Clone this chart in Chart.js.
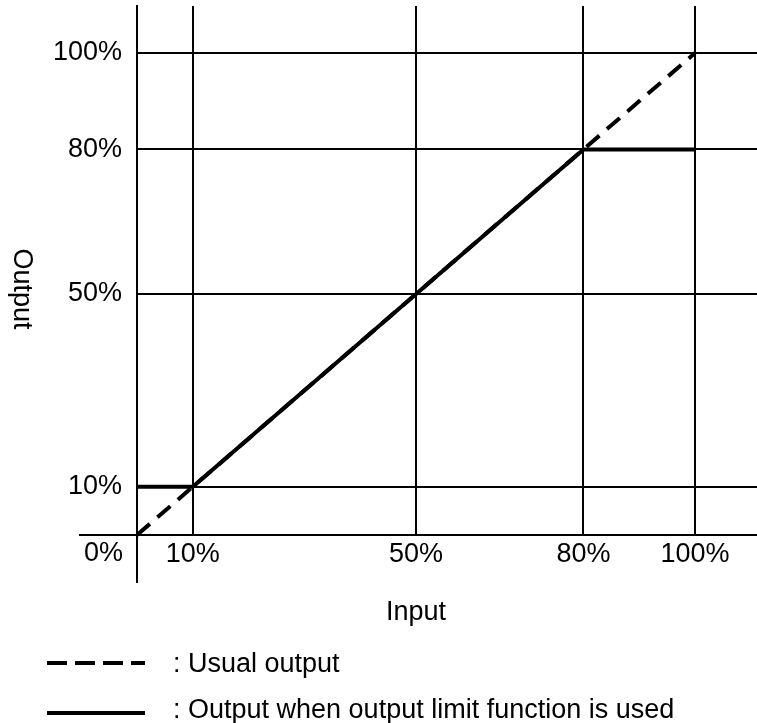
<!DOCTYPE html>
<html><head><meta charset="utf-8">
<script src="https://cdn.jsdelivr.net/npm/chart.js@4"></script>
<style>html,body{margin:0;padding:0;background:#fff}#wrap{width:757px;height:723px}</style>
</head><body><div id="wrap"><canvas id="c" width="757" height="723"></canvas></div>
<script>
// ---- data ----
const usualX = [0, 100];
const usualY = [0, 100];
const limitedX = [0, 10, 80, 100];
const limitedY = [10, 10, 80, 80];
const xTickValues = [0, 10, 50, 80, 100];
const yTickValues = [10, 50, 80, 100];
const seriesLabels = ['Usual output', 'Output when output limit function is used'];
const xTitle = 'Input';
const yTitle = 'Output';
const X_MAX = 111.1;
const Y_MAX = 109.75;

const FONT_FAMILY = '"Liberation Sans", Arial, sans-serif';
const FONT_SIZE = 27;
const FONT = FONT_SIZE + 'px ' + FONT_FAMILY;

const toPoints = (xs, ys) => xs.map((v, i) => ({x: v, y: ys[i]}));

const decor = {
  id: 'decor',
  beforeDatasetsDraw(chart) {
    const {ctx, chartArea, scales: {x, y}} = chart;
    const x0 = Math.round(x.getPixelForValue(0));
    const y0 = Math.round(y.getPixelForValue(0));
    ctx.save();
    ctx.strokeStyle = '#000';
    ctx.lineWidth = 2;
    ctx.beginPath();
    ctx.moveTo(x0, chartArea.bottom);
    ctx.lineTo(x0, chartArea.bottom + 48);
    ctx.moveTo(x0 - 58, y0);
    ctx.lineTo(x0, y0);
    ctx.stroke();
    ctx.restore();
  },
  afterDraw(chart) {
    const {ctx, scales: {x, y}} = chart;
    const x0 = x.getPixelForValue(0);
    const y0 = y.getPixelForValue(0);
    ctx.save();
    ctx.fillStyle = '#000';
    ctx.font = FONT;
    // "0%" tick label (left of the vertical axis)
    ctx.textAlign = 'right';
    ctx.textBaseline = 'middle';
    ctx.fillText(xTickValues[0] + '%', x0 - 14, y0 + 19);
    // x title
    ctx.textAlign = 'center';
    ctx.textBaseline = 'alphabetic';
    const xMid = (x.getPixelForValue(0) + x.getPixelForValue(100)) / 2;
    ctx.fillText(xTitle, xMid, 620);
    // y title (rotated clockwise)
    ctx.save();
    ctx.translate(14, 289);
    ctx.rotate(Math.PI / 2);
    ctx.textAlign = 'center';
    ctx.textBaseline = 'alphabetic';
    ctx.fillText(yTitle, 0, 0);
    ctx.restore();
    // legend
    const rows = [
      {ds: chart.data.datasets[1], lineY: 663, textY: 672, dash: [20, 8]},
      {ds: chart.data.datasets[0], lineY: 713, textY: 718, dash: []}
    ];
    rows.forEach(r => {
      ctx.save();
      ctx.strokeStyle = r.ds.borderColor;
      ctx.lineWidth = r.ds.borderWidth;
      ctx.setLineDash(r.dash);
      ctx.beginPath();
      ctx.moveTo(47, r.lineY);
      ctx.lineTo(145, r.lineY);
      ctx.stroke();
      ctx.restore();
      ctx.textAlign = 'left';
      ctx.textBaseline = 'alphabetic';
      ctx.fillText(': ' + r.ds.label, 173, r.textY);
    });
    ctx.restore();
  }
};

new Chart(document.getElementById('c'), {
  type: 'scatter',
  data: {
    datasets: [
      {
        label: seriesLabels[1],
        data: toPoints(limitedX, limitedY),
        showLine: true,
        borderColor: '#000',
        borderWidth: 4,
        pointRadius: 0,
        fill: false,
        tension: 0,
        clip: false
      },
      {
        label: seriesLabels[0],
        data: toPoints(usualX, usualY),
        showLine: true,
        borderColor: '#000',
        borderWidth: 4,
        borderDash: [17, 10],
        pointRadius: 0,
        fill: false,
        tension: 0,
        clip: false
      }
    ]
  },
  options: {
    responsive: false,
    animation: false,
    devicePixelRatio: 1,
    layout: {padding: {top: 6, right: 0, bottom: 0, left: 0}},
    plugins: {legend: {display: false}, tooltip: {enabled: false}},
    scales: {
      x: {
        type: 'linear',
        min: 0,
        max: X_MAX,
        afterBuildTicks: s => { s.ticks = xTickValues.map(v => ({value: v})); },
        afterFit: s => { s.height = 188; s.paddingLeft = 0; s.paddingRight = 0; s.paddingTop = 0; s.paddingBottom = 0; },
        grid: {color: '#000', lineWidth: 2, drawTicks: false},
        border: {display: true, color: '#000', width: 2},
        ticks: {
          color: '#000',
          font: {family: FONT_FAMILY, size: FONT_SIZE},
          padding: 3,
          maxRotation: 0,
          autoSkip: false,
          callback: v => (v === 0 ? '' : v + '%')
        }
      },
      y: {
        type: 'linear',
        min: 0,
        max: Y_MAX,
        afterBuildTicks: s => { s.ticks = yTickValues.map(v => ({value: v})); },
        afterFit: s => { s.width = 137; s.paddingLeft = 0; s.paddingRight = 0; s.paddingTop = 0; s.paddingBottom = 0; },
        grid: {color: '#000', lineWidth: 2, drawTicks: false},
        border: {display: true, color: '#000', width: 2},
        ticks: {
          color: '#000',
          font: {family: FONT_FAMILY, size: FONT_SIZE},
          padding: 15,
          autoSkip: false,
          callback: v => v + '%'
        }
      }
    }
  },
  plugins: [decor]
});
</script>
</body></html>
